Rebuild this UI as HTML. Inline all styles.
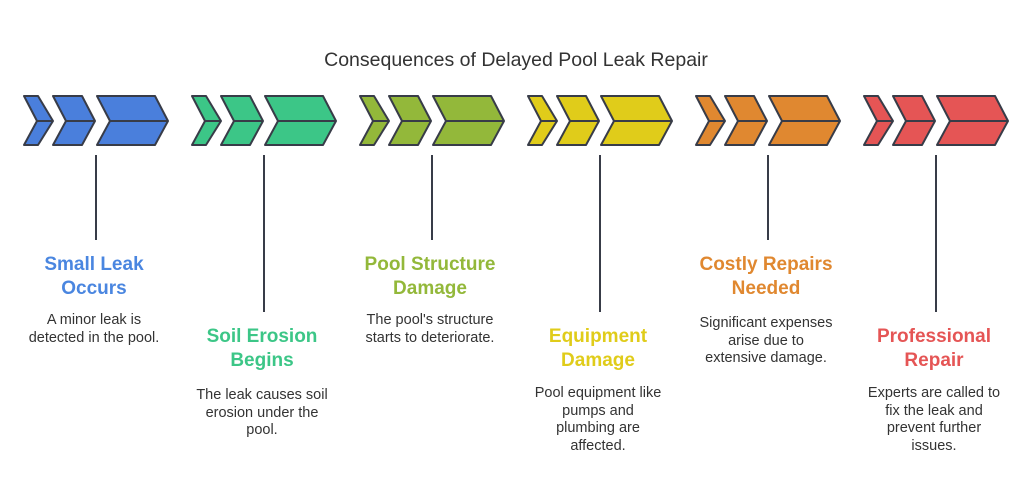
<!DOCTYPE html>
<html><head><meta charset="utf-8"><style>
body{margin:0;width:1032px;height:504px;background:#fff;position:relative;font-family:"Liberation Sans",sans-serif;overflow:hidden}
.t{position:absolute;width:180px;text-align:center;font-weight:bold;font-size:19px;line-height:24px}
.d{position:absolute;width:180px;text-align:center;font-size:14.5px;line-height:17.5px;color:#333}
.h{position:absolute;top:49px;left:0;width:1032px;text-align:center;font-size:19.5px;color:#333}
</style></head><body>
<div class="h">Consequences of Delayed Pool Leak Repair</div>
<svg width="1032" height="504" style="position:absolute;left:0;top:0">
<defs>
<g id="c" stroke="#383c48" stroke-width="2" stroke-linejoin="round">
<polygon points="0,0 14,0 29,25 14,49 0,49 13,25"/>
<polygon points="29,0 58,0 71,25 58,49 29,49 42,25"/>
<polygon points="73,0 131,0 144,25 131,49 73,49 86,25"/>
<line x1="13" y1="25" x2="29" y2="25"/><line x1="42" y1="25" x2="71" y2="25"/><line x1="86" y1="25" x2="144" y2="25"/>
</g>
</defs>
<g stroke="#383c48" stroke-width="2">
<line x1="96" y1="155" x2="96" y2="240"/><line x1="264" y1="155" x2="264" y2="312"/>
<line x1="432" y1="155" x2="432" y2="240"/><line x1="600" y1="155" x2="600" y2="312"/>
<line x1="768" y1="155" x2="768" y2="240"/><line x1="936" y1="155" x2="936" y2="312"/>
</g>
<use href="#c" x="24" y="96" fill="#4a7fdc"/>
<use href="#c" x="192" y="96" fill="#3cc687"/>
<use href="#c" x="360" y="96" fill="#93b83a"/>
<use href="#c" x="528" y="96" fill="#e0cc1a"/>
<use href="#c" x="696" y="96" fill="#e08830"/>
<use href="#c" x="864" y="96" fill="#e55555"/>
</svg>
<div class="t" style="left:4px;top:253px;color:#4a86e0">Small Leak<br>Occurs</div>
<div class="d" style="left:4px;top:312px">A minor leak is<br>detected in the pool.</div>
<div class="t" style="left:172px;top:325px;color:#3cc687">Soil Erosion<br>Begins</div>
<div class="d" style="left:172px;top:387px">The leak causes soil<br>erosion under the<br>pool.</div>
<div class="t" style="left:340px;top:253px;color:#93b83a">Pool Structure<br>Damage</div>
<div class="d" style="left:340px;top:312px">The pool's structure<br>starts to deteriorate.</div>
<div class="t" style="left:508px;top:325px;color:#e0cc1a">Equipment<br>Damage</div>
<div class="d" style="left:508px;top:385px">Pool equipment like<br>pumps and<br>plumbing are<br>affected.</div>
<div class="t" style="left:676px;top:253px;color:#e08830">Costly Repairs<br>Needed</div>
<div class="d" style="left:676px;top:315px">Significant expenses<br>arise due to<br>extensive damage.</div>
<div class="t" style="left:844px;top:325px;color:#e55555">Professional<br>Repair</div>
<div class="d" style="left:844px;top:385px">Experts are called to<br>fix the leak and<br>prevent further<br>issues.</div>
</body></html>
